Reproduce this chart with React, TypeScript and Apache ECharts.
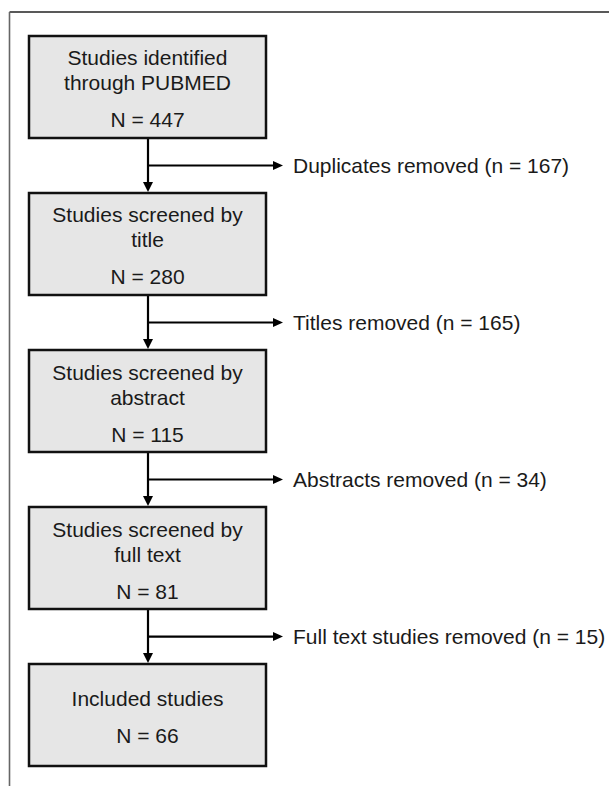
import React, { useEffect, useRef } from "react";
import * as echarts from "echarts";

// ---- data ----
const stageLabels = [
  "Studies identified\nthrough PUBMED",
  "Studies screened by\ntitle",
  "Studies screened by\nabstract",
  "Studies screened by\nfull text",
  "Included studies",
];
const stageCounts = [447, 280, 115, 81, 66];
const removedLabels = [
  "Duplicates removed",
  "Titles removed",
  "Abstracts removed",
  "Full text studies removed",
];
const removedCounts = [167, 165, 34, 15];

// ---- layout ----
const W = 609;
const H = 786;
const BOX_CX = 147.5;
const BOX_W = 237;
const BOX_H = 102;
const FONT = "'Liberation Sans', Arial, sans-serif";
const TEXT_COLOR = "#1a1a1a";

export default function App() {
  const ref = useRef<HTMLDivElement>(null);

  useEffect(() => {
    if (!ref.current) return;
    const chart = echarts.init(ref.current, undefined, { renderer: "svg" });

    const stageData = stageCounts.map((n, i) => ({ value: [BOX_CX, i, n] }));
    const removedData = removedCounts.map((n, i) => ({ value: [BOX_CX, i + 0.5, n] }));

    const option: any = {
      animation: false,
      backgroundColor: "#ffffff",
      grid: { left: 0, right: 0, top: 0, bottom: 0 },
      xAxis: { type: "value", min: 0, max: W, show: false },
      yAxis: { type: "value", min: -0.554, max: 4.452, inverse: true, show: false },
      graphic: [
        {
          type: "line",
          shape: { x1: 9.5, y1: 12, x2: W, y2: 12 },
          style: { stroke: "#222", lineWidth: 1.6 },
        },
        {
          type: "line",
          shape: { x1: 9.5, y1: 12, x2: 9.5, y2: H },
          style: { stroke: "#666", lineWidth: 1.6 },
        },
      ],
      series: [
        {
          type: "custom",
          clip: false,
          data: removedData,
          encode: { x: 0, y: 1 },
          renderItem: (params: any, api: any) => {
            const i = params.dataIndex;
            const mid = api.coord([api.value(0), api.value(1)]);
            const top = api.coord([api.value(0), i])[1] + BOX_H / 2;
            const bot = api.coord([api.value(0), i + 1])[1] - BOX_H / 2 - 1;
            const x = mid[0] + 0.5;
            const y = mid[1];
            const ah = 10;
            const aw = 5;
            const arrowEnd = 283;
            return {
              type: "group",
              children: [
                {
                  type: "line",
                  shape: { x1: x, y1: top, x2: x, y2: bot - ah + 1 },
                  style: { stroke: "#000", lineWidth: 2.2 },
                },
                {
                  type: "polygon",
                  shape: { points: [[x - aw, bot - ah], [x + aw, bot - ah], [x, bot]] },
                  style: { fill: "#000" },
                },
                {
                  type: "line",
                  shape: { x1: x, y1: y, x2: arrowEnd - ah + 1, y2: y },
                  style: { stroke: "#000", lineWidth: 2.2 },
                },
                {
                  type: "polygon",
                  shape: { points: [[arrowEnd - ah, y - 4.5], [arrowEnd - ah, y + 4.5], [arrowEnd, y]] },
                  style: { fill: "#000" },
                },
                {
                  type: "text",
                  style: {
                    text: `${removedLabels[i]} (n = ${api.value(2)})`,
                    x: 293,
                    y: y,
                    align: "left",
                    verticalAlign: "middle",
                    fill: TEXT_COLOR,
                    fontSize: 21,
                    fontFamily: FONT,
                  },
                },
              ],
            };
          },
        },
        {
          type: "custom",
          clip: false,
          data: stageData,
          encode: { x: 0, y: 1 },
          renderItem: (params: any, api: any) => {
            const i = params.dataIndex;
            const c = api.coord([api.value(0), api.value(1)]);
            const lines = stageLabels[i].split("\n");
            const span = (lines.length - 1) * 25 + 37;
            const first = c[1] + 2 - span / 2;
            const children: any[] = [
              {
                type: "rect",
                shape: { x: c[0] - BOX_W / 2, y: c[1] - BOX_H / 2, width: BOX_W, height: BOX_H },
                style: { fill: "#e6e6e6", stroke: "#111", lineWidth: 2.5 },
              },
            ];
            lines.forEach((ln, k) => {
              children.push({
                type: "text",
                style: {
                  text: ln,
                  x: c[0],
                  y: first + k * 25,
                  align: "center",
                  verticalAlign: "middle",
                  fill: TEXT_COLOR,
                  fontSize: 21,
                  fontFamily: FONT,
                },
              });
            });
            children.push({
              type: "text",
              style: {
                text: `N = ${api.value(2)}`,
                x: c[0],
                y: first + (lines.length - 1) * 25 + 37,
                align: "center",
                verticalAlign: "middle",
                fill: TEXT_COLOR,
                fontSize: 21,
                fontFamily: FONT,
              },
            });
            return { type: "group", children };
          },
        },
      ],
    };

    chart.setOption(option);
    return () => chart.dispose();
  }, []);

  return (
    <div
      ref={ref}
      style={{ position: "absolute", left: 0, top: 0, width: W, height: H }}
    />
  );
}
